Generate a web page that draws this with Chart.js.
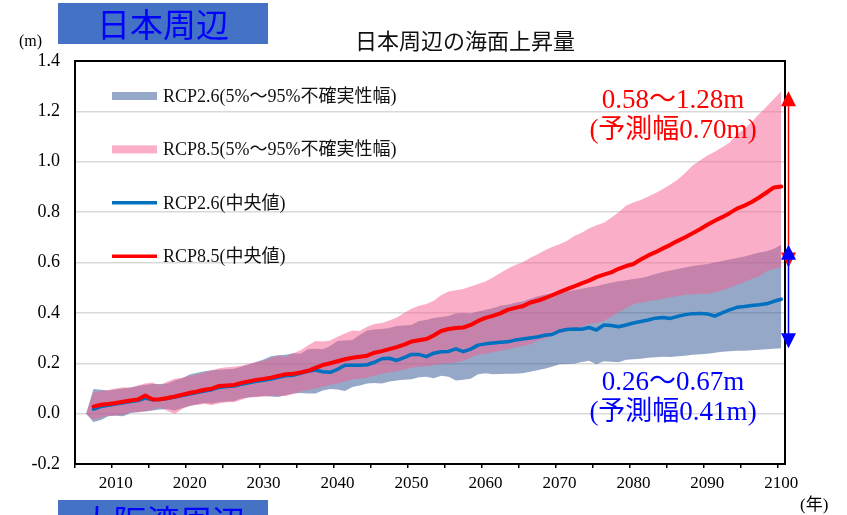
<!DOCTYPE html>
<html lang="ja">
<head>
<meta charset="utf-8">
<title>日本周辺の海面上昇量</title>
<script src="https://cdn.jsdelivr.net/npm/chart.js@4/dist/chart.umd.min.js"></script>
<style>
  html, body { margin: 0; padding: 0; width: 847px; height: 515px; overflow: hidden; background: #fff; }
  #wrap { position: relative; width: 847px; height: 515px; overflow: hidden; }
  canvas { position: absolute; left: 0; top: 0; }
  .region {
    position: absolute; left: 58px; width: 210px; height: 41px;
    background: #4472C4; color: #0000FF; text-align: center;
    font: 33px/41px "Noto Sans CJK JP", sans-serif; white-space: nowrap;
  }
  #title {
    position: absolute; left: 465px; top: 28px; transform: translateX(-50%);
    font: 22px/22px "Noto Sans CJK JP", sans-serif; color: #111; white-space: nowrap;
  }
  .unit { position: absolute; font: 16px/16px "Liberation Serif", "Noto Sans CJK JP", serif; color: #000; white-space: nowrap; }
</style>
</head>
<body>
<div id="wrap">
  <canvas id="c" width="847" height="515"></canvas>
  <div class="region" style="top:3px">日本周辺</div>
  <div class="region" style="top:500px">大阪湾周辺</div>
  <div id="title">日本周辺の海面上昇量</div>
  <div class="unit" style="left:19px; top:33px">(m)</div>
  <div class="unit" style="left:800px; top:497px; font-size:17px">(年)</div>
</div>
<script>
// Years 2006–2100
const years = [
  2006, 2007, 2008, 2009, 2010, 2011, 2012, 2013, 2014, 2015,
  2016, 2017, 2018, 2019, 2020, 2021, 2022, 2023, 2024, 2025,
  2026, 2027, 2028, 2029, 2030, 2031, 2032, 2033, 2034, 2035,
  2036, 2037, 2038, 2039, 2040, 2041, 2042, 2043, 2044, 2045,
  2046, 2047, 2048, 2049, 2050, 2051, 2052, 2053, 2054, 2055,
  2056, 2057, 2058, 2059, 2060, 2061, 2062, 2063, 2064, 2065,
  2066, 2067, 2068, 2069, 2070, 2071, 2072, 2073, 2074, 2075,
  2076, 2077, 2078, 2079, 2080, 2081, 2082, 2083, 2084, 2085,
  2086, 2087, 2088, 2089, 2090, 2091, 2092, 2093, 2094, 2095,
  2096, 2097, 2098, 2099, 2100
];

// RCP8.5 95% bound (m)
const rcp85High = [
  0.000, 0.085, 0.090, 0.094, 0.100, 0.105, 0.103, 0.112, 0.120, 0.124,
  0.112, 0.128, 0.138, 0.142, 0.148, 0.155, 0.162, 0.172, 0.180, 0.184,
  0.186, 0.190, 0.197, 0.205, 0.210, 0.220, 0.230, 0.225, 0.240, 0.252,
  0.270, 0.288, 0.286, 0.290, 0.305, 0.318, 0.330, 0.328, 0.345, 0.356,
  0.360, 0.370, 0.382, 0.400, 0.416, 0.428, 0.435, 0.448, 0.470, 0.485,
  0.490, 0.495, 0.505, 0.515, 0.525, 0.540, 0.558, 0.575, 0.590, 0.600,
  0.618, 0.632, 0.648, 0.662, 0.672, 0.685, 0.705, 0.718, 0.735, 0.748,
  0.758, 0.778, 0.800, 0.825, 0.838, 0.848, 0.862, 0.876, 0.892, 0.910,
  0.930, 0.955, 0.985, 1.005, 1.025, 1.040, 1.058, 1.075, 1.110, 1.130,
  1.158, 1.190, 1.218, 1.250, 1.280
];

// RCP8.5 5% bound (m)
const rcp85Low = [
  0.000, -0.025, -0.015, -0.008, -0.006, -0.004, 0.005, 0.004, 0.010, 0.015,
  0.025, 0.010, -0.001, 0.018, 0.031, 0.035, 0.038, 0.034, 0.040, 0.045,
  0.045, 0.055, 0.065, 0.065, 0.068, 0.070, 0.072, 0.070, 0.078, 0.088,
  0.094, 0.100, 0.108, 0.114, 0.120, 0.128, 0.136, 0.138, 0.142, 0.150,
  0.158, 0.163, 0.168, 0.174, 0.182, 0.186, 0.188, 0.192, 0.198, 0.200,
  0.204, 0.210, 0.222, 0.235, 0.238, 0.244, 0.250, 0.256, 0.263, 0.268,
  0.274, 0.290, 0.296, 0.310, 0.318, 0.326, 0.333, 0.345, 0.356, 0.360,
  0.368, 0.385, 0.402, 0.418, 0.435, 0.440, 0.446, 0.450, 0.456, 0.462,
  0.466, 0.472, 0.474, 0.476, 0.476, 0.482, 0.490, 0.500, 0.512, 0.522,
  0.535, 0.545, 0.565, 0.575, 0.580
];

// RCP2.6 95% bound (m)
const rcp26High = [
  0.000, 0.098, 0.095, 0.092, 0.096, 0.100, 0.104, 0.110, 0.115, 0.118,
  0.118, 0.120, 0.132, 0.140, 0.155, 0.162, 0.168, 0.172, 0.174, 0.176,
  0.178, 0.186, 0.195, 0.205, 0.215, 0.228, 0.232, 0.234, 0.240, 0.238,
  0.256, 0.258, 0.256, 0.268, 0.288, 0.290, 0.292, 0.312, 0.330, 0.334,
  0.336, 0.340, 0.348, 0.350, 0.352, 0.368, 0.372, 0.380, 0.384, 0.388,
  0.398, 0.400, 0.398, 0.405, 0.412, 0.418, 0.428, 0.432, 0.440, 0.445,
  0.455, 0.465, 0.472, 0.478, 0.484, 0.486, 0.490, 0.496, 0.502, 0.506,
  0.514, 0.520, 0.526, 0.530, 0.534, 0.538, 0.545, 0.554, 0.562, 0.568,
  0.574, 0.580, 0.586, 0.590, 0.594, 0.600, 0.606, 0.612, 0.618, 0.624,
  0.632, 0.640, 0.645, 0.655, 0.670
];

// RCP2.6 5% bound (m)
const rcp26Low = [
  0.000, -0.033, -0.025, -0.010, -0.008, -0.010, 0.002, 0.006, 0.008, 0.012,
  0.016, 0.018, 0.012, 0.022, 0.030, 0.036, 0.042, 0.040, 0.046, 0.048,
  0.050, 0.060, 0.064, 0.068, 0.070, 0.068, 0.066, 0.074, 0.080, 0.082,
  0.080, 0.080, 0.092, 0.098, 0.096, 0.090, 0.106, 0.112, 0.120, 0.122,
  0.120, 0.128, 0.132, 0.134, 0.136, 0.144, 0.146, 0.140, 0.150, 0.146,
  0.132, 0.134, 0.138, 0.156, 0.160, 0.156, 0.157, 0.158, 0.158, 0.160,
  0.166, 0.172, 0.178, 0.186, 0.196, 0.197, 0.198, 0.205, 0.210, 0.196,
  0.208, 0.206, 0.204, 0.214, 0.216, 0.218, 0.222, 0.224, 0.226, 0.225,
  0.228, 0.230, 0.234, 0.236, 0.238, 0.242, 0.246, 0.248, 0.250, 0.250,
  0.252, 0.254, 0.256, 0.258, 0.260
];

// RCP8.5 median (m)
const rcp85Median = [
  null, 0.028, 0.035, 0.038, 0.042, 0.047, 0.052, 0.056, 0.072, 0.056,
  0.057, 0.062, 0.068, 0.075, 0.082, 0.088, 0.095, 0.099, 0.110, 0.112,
  0.114, 0.122, 0.128, 0.134, 0.138, 0.143, 0.150, 0.156, 0.158, 0.163,
  0.170, 0.182, 0.193, 0.200, 0.208, 0.216, 0.222, 0.226, 0.230, 0.242,
  0.248, 0.256, 0.264, 0.274, 0.286, 0.291, 0.296, 0.310, 0.328, 0.336,
  0.340, 0.342, 0.352, 0.368, 0.380, 0.388, 0.398, 0.412, 0.420, 0.426,
  0.440, 0.448, 0.458, 0.470, 0.482, 0.494, 0.505, 0.517, 0.528, 0.542,
  0.552, 0.561, 0.575, 0.586, 0.594, 0.612, 0.628, 0.641, 0.656, 0.670,
  0.686, 0.700, 0.716, 0.732, 0.750, 0.766, 0.780, 0.796, 0.814, 0.826,
  0.840, 0.858, 0.878, 0.898, 0.902
];

// RCP2.6 median (m)
const rcp26Median = [
  null, 0.018, 0.028, 0.033, 0.038, 0.043, 0.048, 0.052, 0.062, 0.055,
  0.056, 0.060, 0.066, 0.072, 0.078, 0.084, 0.090, 0.095, 0.104, 0.108,
  0.110, 0.116, 0.122, 0.128, 0.132, 0.137, 0.144, 0.150, 0.152, 0.160,
  0.168, 0.173, 0.166, 0.164, 0.176, 0.192, 0.192, 0.192, 0.194, 0.204,
  0.218, 0.220, 0.211, 0.222, 0.235, 0.235, 0.226, 0.240, 0.246, 0.247,
  0.257, 0.246, 0.256, 0.272, 0.277, 0.280, 0.283, 0.285, 0.292, 0.296,
  0.300, 0.304, 0.311, 0.314, 0.328, 0.334, 0.336, 0.335, 0.342, 0.332,
  0.352, 0.350, 0.345, 0.352, 0.360, 0.366, 0.372, 0.379, 0.382, 0.378,
  0.386, 0.393, 0.397, 0.398, 0.396, 0.387, 0.400, 0.412, 0.422, 0.425,
  0.429, 0.432, 0.436, 0.446, 0.454
];

// 2100 projection ranges [5%, 95%] (m)
const rcp85Range = [0.58, 1.28];
const rcp26Range = [0.26, 0.67];

// Axis tick labels
const xTickLabels = ['2010', '2020', '2030', '2040', '2050', '2060', '2070', '2080', '2090', '2100'];
const yTickValues = [-0.2, 0.0, 0.2, 0.4, 0.6, 0.8, 1.0, 1.2, 1.4];

const SERIF = '"Liberation Serif", "Noto Sans CJK JP", serif';
const BLUE_BAND = 'rgba(45, 82, 143, 0.5)';
const PINK_BAND = 'rgba(245, 93, 143, 0.5)';
const BLUE_LINE = '#0070C0';
const RED_LINE = '#FF0000';

const pts = arr => years.map((x, i) => ({ x, y: arr[i] }));

// Category slots are one year wide; tick marks sit on slot edges every 5 years.
const xMin = years[0] - 1.5;
const xMax = years[years.length - 1] + 0.5;
const slotEdges = [];
for (let e = xMin; e <= xMax - 1; e += 5) slotEdges.push(e);

const lineBase = { pointRadius: 0, tension: 0, borderJoinStyle: 'round', borderCapStyle: 'round', fill: false };
const bandBase = { pointRadius: 0, tension: 0, borderWidth: 0, borderColor: 'rgba(0,0,0,0)' };

// Plot frame, in-plot legend and the 2100 range arrows
const overlay = {
  id: 'overlay',
  afterDraw(chart) {
    const { ctx, chartArea: a, scales } = chart;
    const ds = chart.data.datasets;
    ctx.save();

    // frame
    ctx.strokeStyle = '#000';
    ctx.lineWidth = 2;
    ctx.strokeRect(a.left, a.top, a.right - a.left, a.bottom - a.top);

    // legend
    const entries = [
      { d: ds[4], band: true },
      { d: ds[2], band: true },
      { d: ds[1], band: false },
      { d: ds[0], band: false }
    ];
    const sx = a.left + 37, sw = 45;
    ctx.font = '18px ' + SERIF;
    ctx.textAlign = 'left';
    ctx.textBaseline = 'middle';
    entries.forEach((e, i) => {
      const cy = a.top + 35 + i * 53.4;
      if (e.band) {
        ctx.fillStyle = e.d.backgroundColor;
        ctx.fillRect(sx, cy - 4, sw, 8);
      } else {
        ctx.strokeStyle = e.d.borderColor;
        ctx.lineWidth = 3.5;
        ctx.lineCap = 'butt';
        ctx.beginPath();
        ctx.moveTo(sx, cy);
        ctx.lineTo(sx + sw, cy);
        ctx.stroke();
      }
      ctx.fillStyle = '#111';
      ctx.fillText(e.d.label, sx + sw + 6, cy + 1);
    });

    // range arrows at the right edge
    const y = scales.y;
    const ax = a.right + 3.5;
    const arrow = (range, color) => {
      const yHi = y.getPixelForValue(range[1]);
      const yLo = y.getPixelForValue(range[0]);
      ctx.strokeStyle = color;
      ctx.fillStyle = color;
      ctx.lineWidth = 1.5;
      ctx.beginPath();
      ctx.moveTo(ax, yHi + 14);
      ctx.lineTo(ax, yLo - 14);
      ctx.stroke();
      ctx.beginPath();
      ctx.moveTo(ax, yHi);
      ctx.lineTo(ax - 7.5, yHi + 15);
      ctx.lineTo(ax + 7.5, yHi + 15);
      ctx.closePath();
      ctx.fill();
      ctx.beginPath();
      ctx.moveTo(ax, yLo);
      ctx.lineTo(ax - 7.5, yLo - 15);
      ctx.lineTo(ax + 7.5, yLo - 15);
      ctx.closePath();
      ctx.fill();
    };
    arrow(rcp85Range, '#FF0000');
    arrow(rcp26Range, '#0000FF');

    // range labels
    const f = v => v.toFixed(2);
    const label = (range, color, top) => {
      ctx.fillStyle = color;
      ctx.font = '27px ' + SERIF;
      ctx.textAlign = 'center';
      ctx.textBaseline = 'middle';
      const cx = a.right - 112;
      ctx.fillText(f(range[0]) + '～' + f(range[1]) + 'm', cx, top);
      ctx.fillText('(予測幅' + f(range[1] - range[0]) + 'm)', cx, top + 30);
    };
    label(rcp85Range, '#FF0000', a.top + 40);
    label(rcp26Range, '#0000FF', a.top + 322);

    ctx.restore();
  }
};

new Chart(document.getElementById('c'), {
  type: 'line',
  data: {
    datasets: [
      { ...lineBase, label: 'RCP8.5(中央値)', data: pts(rcp85Median), borderColor: RED_LINE, borderWidth: 4, order: 0 },
      { ...lineBase, label: 'RCP2.6(中央値)', data: pts(rcp26Median), borderColor: BLUE_LINE, borderWidth: 3.5, order: 1 },
      { ...bandBase, label: 'RCP8.5(5%～95%不確実性幅)', data: pts(rcp85High), backgroundColor: PINK_BAND, fill: '+1', order: 2 },
      { ...bandBase, label: 'RCP8.5 5%', data: pts(rcp85Low), backgroundColor: PINK_BAND, fill: false, order: 3 },
      { ...bandBase, label: 'RCP2.6(5%～95%不確実性幅)', data: pts(rcp26High), backgroundColor: BLUE_BAND, fill: '+1', order: 4 },
      { ...bandBase, label: 'RCP2.6 5%', data: pts(rcp26Low), backgroundColor: BLUE_BAND, fill: false, order: 5 }
    ]
  },
  options: {
    responsive: false,
    animation: false,
    events: [],
    layout: { padding: { top: 61, right: 62, bottom: 0, left: 0 } },
    plugins: {
      legend: { display: false },
      tooltip: { enabled: false },
      title: { display: false }
    },
    scales: {
      x: {
        type: 'linear',
        min: xMin,
        max: xMax,
        afterBuildTicks: s => { s.ticks = slotEdges.map(v => ({ value: v })); },
        afterFit: s => { s.height = 51; },
        border: { display: false },
        grid: { drawOnChartArea: false, drawTicks: true, tickLength: 4, color: '#000', lineWidth: 1.5 },
        ticks: {
          autoSkip: false, maxRotation: 0, minRotation: 0,
          padding: 5, labelOffset: 3.7, color: '#000',
          font: { family: SERIF, size: 17 },
          callback: v => {
            const yr = String(Math.round(v + 0.5));
            return xTickLabels.includes(yr) ? yr : '';
          }
        }
      },
      y: {
        min: yTickValues[0],
        max: yTickValues[yTickValues.length - 1],
        afterBuildTicks: s => { s.ticks = yTickValues.map(v => ({ value: v })); },
        afterFit: s => { s.width = 75; },
        border: { display: false },
        grid: { color: '#D9D9D9', lineWidth: 1.5, drawTicks: false },
        ticks: {
          padding: 15, color: '#000',
          font: { family: SERIF, size: 18 },
          callback: v => Number(v).toFixed(1)
        }
      }
    }
  },
  plugins: [overlay]
});
</script>
</body>
</html>
